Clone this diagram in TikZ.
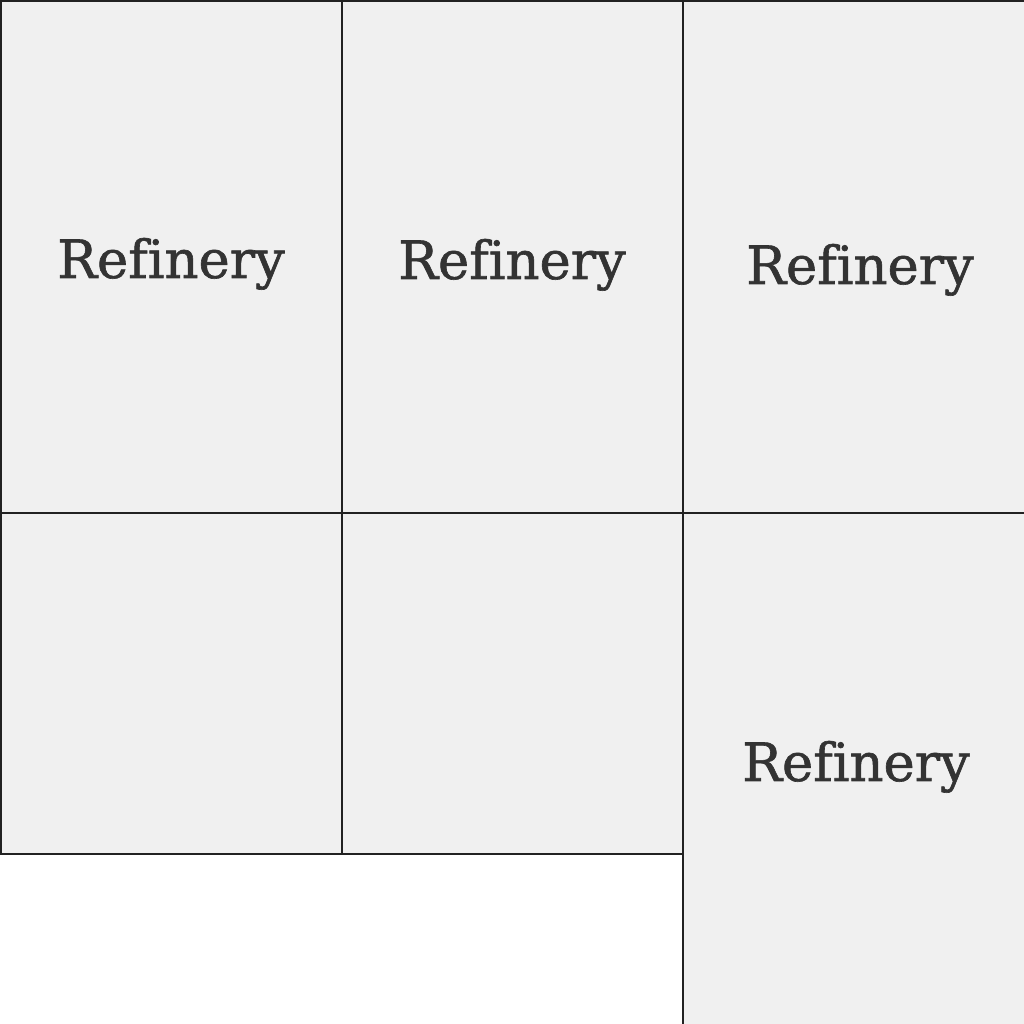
\documentclass[tikz,border=0pt]{standalone}
\usepackage{fontspec}
\setmainfont{DejaVu Serif}[Ligatures=NoCommon, FakeBold=1.2]
\definecolor{cellfill}{HTML}{F0F0F0}
\definecolor{cellline}{HTML}{222222}
\definecolor{labeltext}{HTML}{333333}
\tikzset{
    cell/.style={draw=cellline, fill=cellfill, line width=0.5pt, inner sep=0pt, anchor=north west},
    plant/.style={text=labeltext, font=\fontsize{15}{18}\selectfont, anchor=base, inner sep=0pt}
}
\begin{document}
\begin{tikzpicture}
    \useasboundingbox (0,0) rectangle (10.24,10.24);
    % upper row
    \node[cell, minimum width=3.41cm, minimum height=5.12cm] (c11) at (0,10.24) {};
    \node[cell, minimum width=3.41cm, minimum height=5.12cm] (c12) at (3.41,10.24) {};
    \node[cell, minimum width=3.42cm, minimum height=5.12cm] (c13) at (6.82,10.24) {};
    % lower row
    \node[cell, minimum width=3.41cm, minimum height=3.41cm] (c21) at (0,5.12) {};
    \node[cell, minimum width=3.41cm, minimum height=3.41cm] (c22) at (3.41,5.12) {};
    \node[cell, minimum width=3.42cm, minimum height=5.12cm] (c23) at (6.82,5.12) {};
    % labels
    \node[plant] (r1) at (1.71,7.46) {Refinery};
    \node[plant] (r2) at (5.12,7.45) {Refinery};
    \node[plant] (r3) at (8.60,7.40) {Refinery};
    \node[plant] (r4) at (8.56,2.43) {Refinery};
\end{tikzpicture}
\end{document}
